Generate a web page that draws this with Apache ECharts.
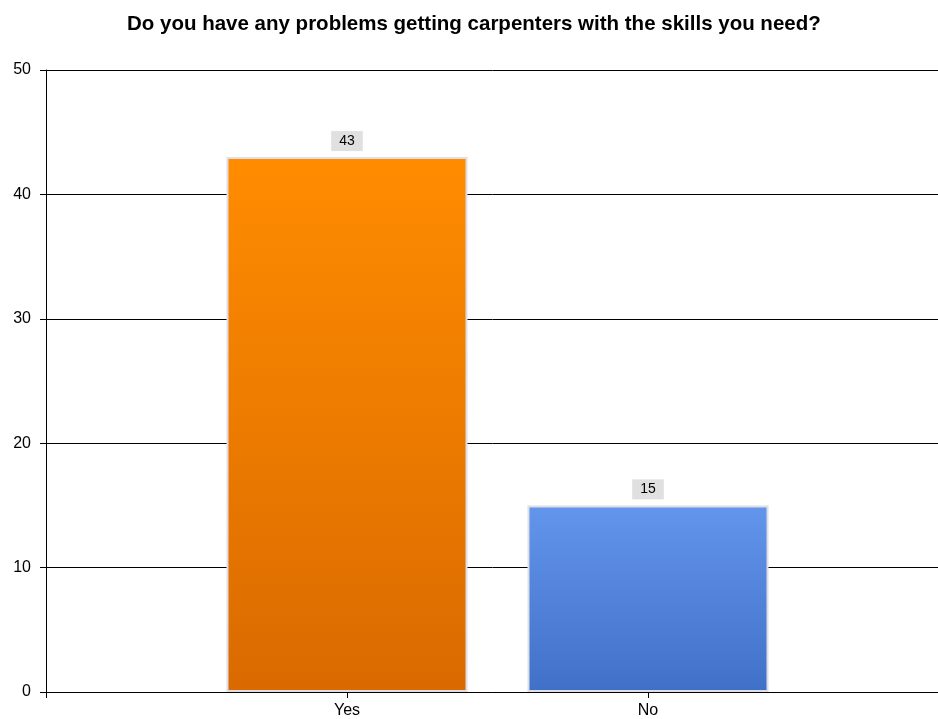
<!DOCTYPE html>
<html>
<head>
<meta charset="utf-8">
<script src="https://cdn.jsdelivr.net/npm/echarts@6/dist/echarts.min.js"></script>
<style>
  html, body { margin: 0; padding: 0; background: #fff; }
  #main { width: 938px; height: 719px; }
</style>
</head>
<body>
<div id="main"></div>
<script>
var title = 'Do you have any problems getting carpenters with the skills you need?';
var categories = ['Yes', 'No'];
var values = [43, 15];
var yTicks = [0, 10, 20, 30, 40, 50];

// top / bottom colours of each bar's gradient
var barTop = ['#FF8C00', '#6495ED'];
var barBottom = ['#DA6A00', '#4070C8'];

var myChart = echarts.init(document.getElementById('main'));

// the category axis runs from an empty slot before Yes to one after No
var axisCats = [''].concat(categories, ['']);
var barData = [null];
values.forEach(function (v, i) {
  barData.push({
    value: v,
    itemStyle: {
      color: new echarts.graphic.LinearGradient(0, 0, 0, 1, [
        { offset: 0, color: barTop[i] },
        { offset: 1, color: barBottom[i] }
      ])
    }
  });
});
barData.push(null);

var option = {
  animation: false,
  title: {
    text: title,
    left: 122,
    top: 9,
    textStyle: { fontFamily: 'Liberation Sans', fontSize: 20.5, fontWeight: 'bold', color: '#000' }
  },
  // plot runs off the right edge, like the original
  grid: { left: 46, width: 903, top: 70, height: 622, outerBoundsMode: 'none', containLabel: false },
  xAxis: {
    type: 'category',
    data: axisCats,
    boundaryGap: false,
    axisLine: { lineStyle: { color: '#000', width: 1 } },
    axisTick: { show: true, length: 6, lineStyle: { color: '#000' } },
    axisLabel: { color: '#000', fontFamily: 'Liberation Sans', fontSize: 16, margin: 11 },
    splitLine: { show: false }
  },
  yAxis: {
    type: 'value',
    min: yTicks[0],
    max: yTicks[yTicks.length - 1],
    interval: yTicks[1] - yTicks[0],
    axisLine: { show: true, lineStyle: { color: '#000', width: 1 } },
    axisTick: { show: true, length: 6, lineStyle: { color: '#000' } },
    axisLabel: { color: '#000', fontFamily: 'Liberation Sans', fontSize: 16, margin: 15 },
    splitLine: { show: true, lineStyle: { color: '#000', width: 1 } }
  },
  series: [{
    type: 'bar',
    data: barData,
    barWidth: 241,
    itemStyle: { borderColor: '#dedee6', borderWidth: 2 },
    label: {
      show: true,
      position: 'top',
      distance: 6,
      color: '#000',
      fontFamily: 'Liberation Sans',
      fontSize: 14,
      backgroundColor: '#e0e0e0',
      padding: [3, 8, 3, 8]
    }
  }]
};
myChart.setOption(option);
</script>
</body>
</html>
